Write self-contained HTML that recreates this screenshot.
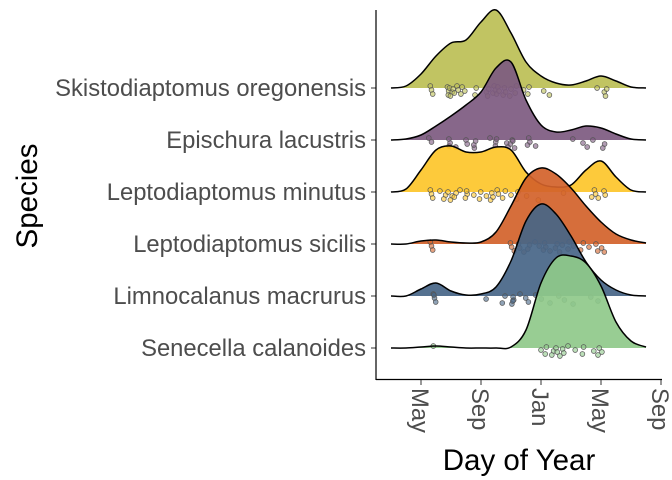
<!DOCTYPE html>
<html><head><meta charset="utf-8"><style>
body{margin:0;background:#fff;}
svg{display:block;font-family:"Liberation Sans",sans-serif;}
</style></head><body>
<svg id="chart" width="672" height="480"></svg>
<script>
const species = ["Skistodiaptomus oregonensis","Epischura lacustris","Leptodiaptomus minutus","Leptodiaptomus sicilis","Limnocalanus macrurus","Senecella calanoides"];
const colors = ["#bcbf55","#7d5a80","#fdc62a","#d3622a","#466587","#8fc98a"];
// months since May 1 sampled at -2..15
const gridMonths = [-2,-1,0,1,2,3,4,5,6,7,8,9,10,11,12,13,14,15];
const densSkisto = [0,2,14,32,45,48,66,78,55,26,12,5,3,7,12,7,1,0];
const densEpisch = [0,1,5,14,24,35,48,72,78,40,15,8,10,14,12,6,1,0];
const densMinutus = [0,3,22,42,46,40,40,45,42,20,8,5,7,22,31,15,2,0];
const densSicilis = [0,0,3,4,2,1,2,12,38,66,76,70,56,38,22,10,4,1];
const densLimno = [0,0,7,13,5,1,2,9,35,75,92,82,60,34,16,6,1,0];
const densSenec = [0,0,1,2,1,0,0,0,1,18,65,90,92,85,62,26,7,1];
const densities = [densSkisto,densEpisch,densMinutus,densSicilis,densLimno,densSenec];
const ptsSkisto = [0.7,0.7,0.7,1.8,1.8,1.9,1.9,2.0,2.0,2.1,2.3,2.4,2.4,2.7,2.7,3.0,3.6,3.6,4.4,4.4,4.6,4.8,4.8,5.0,5.0,5.2,5.2,5.4,5.6,5.6,6.0,6.0,6.2,6.4,6.8,7.2,7.2,8.1,8.6,11.7,12.3,12.3,12.3];
const ptsEpisch = [0.6,0.7,1.8,1.9,1.9,2.4,3.0,3.0,3.6,3.6,3.6,4.6,4.9,5.0,5.0,5.8,5.8,6.0,6.0,6.2,6.2,7.1,7.1,7.3,7.6,10.2,10.8,11.0,11.5,12.2,12.2];
const ptsMinutus = [0.7,0.7,0.7,1.3,1.6,1.6,1.8,2.0,2.0,2.3,2.3,2.6,3.0,3.0,3.0,3.6,3.9,3.9,4.4,4.6,4.8,4.8,5.0,5.2,5.4,5.7,6.0,6.3,6.5,7.0,7.9,9.5,11.3,11.6,11.6,11.9,12.2,12.2];
const ptsSicilis = [0.7,0.7,0.7,6.0,6.0,6.3,6.5,6.5,6.9,7.2,7.2,7.6,7.8,8.2,8.2,8.4,8.6,9.0,9.0,9.2,9.5,9.8,9.8,10.2,10.6,10.9,11.2,11.7,11.7,12.0,12.3];
const ptsLimno = [0.9,0.9,0.9,0.9,4.3,5.5,5.6,6.1,6.1,6.1,6.2,6.6,6.9,7.2,7.6,8.1,8.6,9.1,9.6,10.1,11.4,11.8];
const ptsSenec = [0.9,8.0,8.2,8.4,8.8,8.8,9.0,9.0,9.3,9.4,9.6,9.8,10.2,10.8,10.8,11.6,11.8,11.8,12.1];
const points = [ptsSkisto,ptsEpisch,ptsMinutus,ptsSicilis,ptsLimno,ptsSenec];
const xTicks = [0,4,8,12,16];
const xTickLabels = ["May","Sep","Jan","May","Sep"];

const NS="http://www.w3.org/2000/svg";
const svg=document.getElementById('chart');
const x = m => 421 + m*15;
const base = i => 88 + i*52;
const hScale = 1.0;
function mk(t,a,p){const e=document.createElementNS(NS,t);for(const k in a)e.setAttribute(k,a[k]);(p||svg).appendChild(e);return e;}
function smooth(pts){
  let d=`M${pts[0][0]},${pts[0][1]}`;
  for(let i=0;i<pts.length-1;i++){
    const p0=pts[Math.max(0,i-1)],p1=pts[i],p2=pts[i+1],p3=pts[Math.min(pts.length-1,i+2)];
    const c1=[p1[0]+(p2[0]-p0[0])/6,p1[1]+(p2[1]-p0[1])/6];
    const c2=[p2[0]-(p3[0]-p1[0])/6,p2[1]-(p3[1]-p1[1])/6];
    d+=`C${c1[0]},${c1[1]} ${c2[0]},${c2[1]} ${p2[0]},${p2[1]}`;
  }
  return d;
}
species.forEach((sp,i)=>{
  const g=mk('g',{});
  
  
  const pts=gridMonths.map((m,j)=>[x(m),base(i)-densities[i][j]*hScale]);
  const line=smooth(pts);
  const area=mk('path',{d:line+`L${x(gridMonths[gridMonths.length-1])},${base(i)}L${x(gridMonths[0])},${base(i)}Z`,fill:colors[i],'fill-opacity':0.92},g);
  
  
  points[i].forEach((m,k)=>{
    const c=mk('circle',{cx:x(m)+((k*7)%5-2)*0.6,cy:base(i)+((k*37)%11)-2,r:2.4,fill:colors[i],'fill-opacity':0.6,stroke:'#555','stroke-width':0.7},g);
    
    
  });
  const ln=mk('path',{d:line,fill:'none',stroke:'#000','stroke-width':1.5},g);
  
  
  const lab=mk('text',{x:366,y:base(i)+8,'text-anchor':'end','font-size':23.8,fill:'#4d4d4d'});
  lab.textContent=sp;
  
  
  const tk=mk('line',{x1:371,x2:376,y1:base(i),y2:base(i),stroke:'#333','stroke-width':1});
  
  
});
const ya=mk('line',{x1:376,x2:376,y1:10,y2:380,stroke:'#000','stroke-width':1.2});


const xa=mk('line',{x1:376,x2:662,y1:379.5,y2:379.5,stroke:'#000','stroke-width':1.2});


xTicks.forEach((m,i)=>{
  const t=mk('line',{x1:x(m),x2:x(m),y1:380,y2:385,stroke:'#333','stroke-width':1});
  
  
  const tx=mk('text',{x:0,y:0,transform:`translate(${x(m)-9},388) rotate(90)`,'font-size':23.8,fill:'#4d4d4d'});
  tx.textContent=xTickLabels[i];
  
  
});
const xt=mk('text',{x:519,y:470,'text-anchor':'middle','font-size':29.5,fill:'#000'});
xt.textContent='Day of Year';


const yt=mk('text',{transform:'translate(37,196) rotate(-90)','text-anchor':'middle','font-size':29.5,fill:'#000'});
yt.textContent='Species';


</script>
</body></html>
